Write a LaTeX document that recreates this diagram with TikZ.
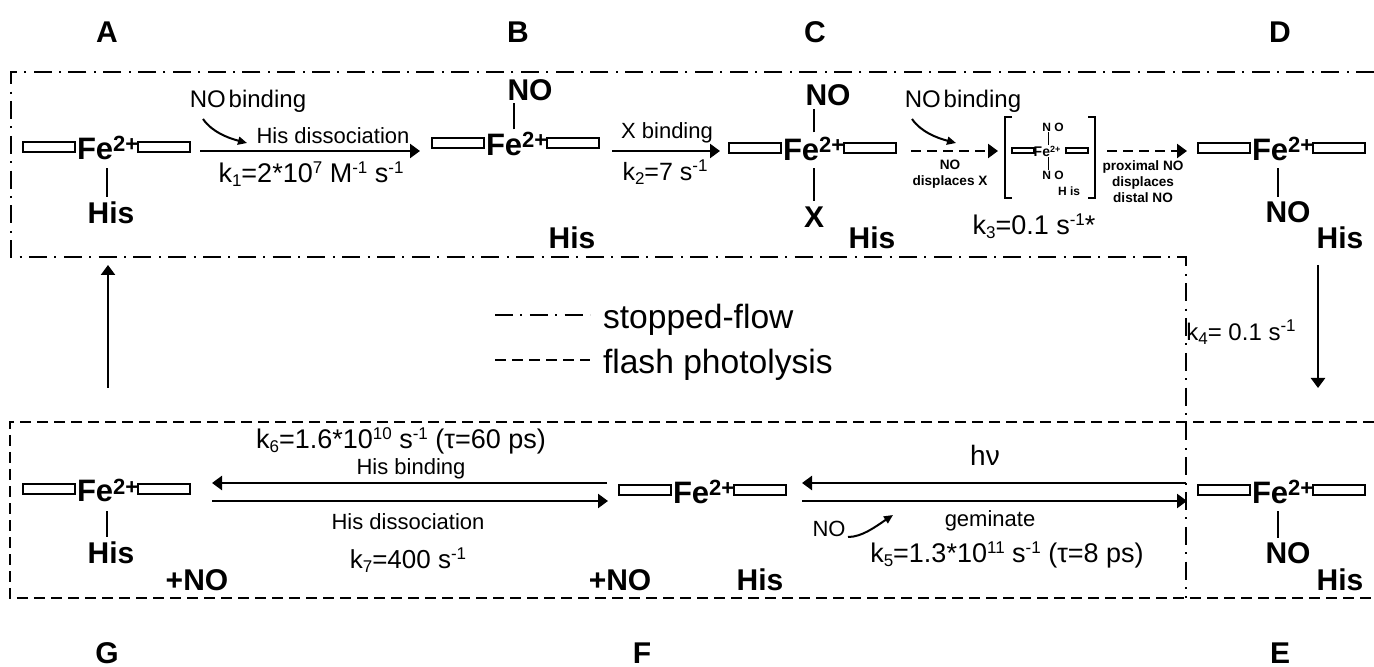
\documentclass[tikz,border=0pt]{standalone}
\usepackage{fontspec}
\setmainfont{Liberation Sans}
\usetikzlibrary{arrows.meta,calc}
\newcommand{\fsz}[1]{\fontsize{#1}{#1}\selectfont}
\newcommand{\sbs}[1]{\raisebox{-2pt}{\fsz{8.5}#1}}
\newcommand{\sps}[1]{\raisebox{4.5pt}{\fsz{8.5}#1}}
\newcommand{\hemefe}{\fsz{15.5}\bfseries Fe\raisebox{4pt}{\fsz{11}2+}}
\tikzset{
 x=0.5pt,y=-0.5pt,
 every node/.style={inner sep=0pt,outer sep=0pt},
 porph/.style={draw=black,line width=1.1pt,fill=white,minimum width=26pt,minimum height=5pt},
 miniporph/.style={draw=black,line width=0.6pt,fill=white,minimum width=11pt,minimum height=2.5pt},
 fe/.style={anchor=base west},
 big/.style={font=\fsz{15}\bfseries},
 letter/.style={font=\fsz{15}\bfseries},
 rate/.style={font=\fsz{13.5}},
 lab/.style={font=\fsz{11}},
 tiny/.style={font=\fontsize{6.8}{8}\selectfont\bfseries,align=center},
 mini/.style={font=\fsz{6}\bfseries},
 bond/.style={line width=0.9pt},
 arr/.style={line width=1.2pt,-{Triangle[length=5pt,width=7pt]}},
 curv/.style={line width=1pt,-{Triangle[length=4.5pt,width=4pt]}},
 dasharr/.style={arr,dash pattern=on 5pt off 3pt},
 sflow/.style={line width=1pt,dash pattern=on 9pt off 3.7pt on 1pt off 3.7pt},
 fphoto/.style={line width=1pt,dash pattern=on 5.5pt off 3pt},
 bracket/.style={line width=0.6pt},
}
\newcommand{\heme}[3]{%
 \node[porph,anchor=west] (#1l) at (#2,#3) {};
 \node[porph,anchor=west] (#1r) at (#2+115,#3) {};
 \node[fe] (#1f) at (#2+54,#3+13) {\hemefe};
}
% vertical bond: start offset from Fe node, ends level with a target node's anchor
\newcommand{\vbond}[6]{%
 \coordinate (p) at ($(#1.south west)+(#2,#3)$);
 \draw[bond] (p) -- ($(p |- #4.#5)+(0,#6)$);
}
\begin{document}
\begin{tikzpicture}
\useasboundingbox (0,0) rectangle (1374,667);
% letters
\node[letter] (la) at (107,32) {A};
\node[letter] (lb) at (518,32) {B};
\node[letter] (lc) at (815,32) {C};
\node[letter] (ld) at (1280,32) {D};
\node[letter] (lg) at (107,653) {G};
\node[letter] (lf) at (642,653) {F};
\node[letter] (le) at (1280,653) {E};
% boxes
\coordinate (s1) at (1374,72); \coordinate (s2) at (11,72); \coordinate (s3) at (11,257);
\coordinate (s4) at (1186,257); \coordinate (s5) at (1186,598);
\draw[sflow] (s1) -- (s2) -- (s3) -- (s4) -- (s5);
\coordinate (f1) at (1374,422); \coordinate (f2) at (10,422); \coordinate (f3) at (10,598); \coordinate (f4) at (1374,598);
\draw[fphoto] (f1) -- (f2) -- (f3) -- (f4);
% hemes
\heme{a}{23}{147}
\heme{b}{432}{143}
\heme{c}{729}{148}
\heme{d}{1198}{148}
\heme{e}{1198}{490}
\heme{f}{619}{490}
\heme{g}{23}{489}
% A
\node[big] (ah) at (111,213) {His};
\vbond{af}{30}{8}{ah}{north}{-5}
% B
\node[big] (bn) at (530,90) {NO};
\node[big] (bh) at (572,238) {His};
\vbond{bf}{28}{-27}{bn}{south}{2}
% C
\node[big] (cn) at (828,95) {NO};
\node[big] (cx) at (814,217) {X};
\node[big] (ch) at (872,238) {His};
\vbond{cf}{31}{-29}{cn}{south}{3}
\vbond{cf}{31}{7}{cx}{north}{-6}
% D
\node[big] (dn) at (1288,212) {NO};
\node[big] (dh) at (1340,238) {His};
\vbond{df}{26}{7}{dn}{north}{-4}
% E
\node[big] (en) at (1288,553) {NO};
\node[big] (eh) at (1340,580) {His};
\vbond{ef}{26}{8}{en}{north}{-4}
% F
\node[big] (fp) at (620,580) {+NO};
\node[big] (fh) at (760,580) {His};
% G
\node[big] (gh) at (111,553) {His};
\node[big] (gp) at (197,580) {+NO};
\vbond{gf}{30}{9}{gh}{north}{-5}
% A->B
\node[lab,font=\fsz{12}] (t1) at (248,101) {NO\hspace{0.12em}binding};
\node[lab] (t2) at (333,136) {His dissociation};
\node[rate] (k1) at (311,174) {k\sbs{1}=2*10\sps{7} M\sps{-1} s\sps{-1}};
\draw[arr] ($(ar.east)+(10,4)$) -- ($(bl.west)+(-12,8)$);
\coordinate (c1) at (203,119); \coordinate (c2) at (247,143);
\draw[curv] (c1) .. controls (212,132) and (228,138) .. (c2);
% B->C
\node[lab] (t3) at (667,133) {X binding};
\node[rate,font=\fsz{12.5}] (k2) at (665,172) {k\sbs{2}=7 s\sps{-1}};
\draw[arr] ($(br.east)+(13,8)$) -- ($(cl.west)+(-9,3)$);
% C->intermediate->D
\node[lab,font=\fsz{12}] (t4) at (963,101) {NO\hspace{0.12em}binding};
\coordinate (c3) at (912,119); \coordinate (c4) at (956,143);
\draw[curv] (c3) .. controls (921,132) and (937,138) .. (c4);
\node[tiny] (t5) at (950,174) {NO\\displaces X};
\node[miniporph] (ml) at (1023,150.5) {};
\node[miniporph] (mr) at (1077,150.5) {};
\node[mini,font=\fsz{7}\bfseries] (mf) at (1047,151) {Fe\raisebox{2pt}{\fsz{4.5}2+}};
\node[mini] (mn1) at (1053,127) {N O};
\node[mini] (mn2) at (1053,175) {N O};
\node[mini] (mh) at (1069,191) {H is};
\draw[line width=.5pt] (mn1.south) ++(-5,1) -- ++(0,13);
\draw[line width=.5pt] (mn2.north) ++(-5,-1) -- ++(0,-13);
\coordinate (b1) at (1012,117); \coordinate (b2) at (1005,117); \coordinate (b3) at (1005,198); \coordinate (b4) at (1012,198);
\coordinate (b5) at (1088,117); \coordinate (b6) at (1095,117); \coordinate (b7) at (1095,198); \coordinate (b8) at (1088,198);
\draw[bracket] (b1) -- (b2) -- (b3) -- (b4);
\draw[bracket] (b5) -- (b6) -- (b7) -- (b8);
\draw[dasharr] ($(cr.east)+(15,3)$) -- ($(b2)+(-7,34)$);
\draw[dasharr] ($(b6)+(12,34)$) -- ($(dl.west)+(-11,3)$);
\node[tiny] (t6) at (1143,182) {proximal NO\\displaces\\distal NO};
\node[rate] (k3) at (1034,226) {k\sbs{3}=0.1 s\sps{-1}*};
% D->E
\coordinate (d1) at (1318,265); \coordinate (d2) at (1318,388);
\draw[arr] (d1) -- (d2);
\node[rate,font=\fsz{12}] (k4) at (1241,332) {k\sbs{4}= 0.1 s\sps{-1}};
% G->A
\coordinate (u1) at (108,388); \coordinate (u2) at (108,265);
\draw[arr] (u1) -- (u2);
% legend
\coordinate (l1) at (495,315); \coordinate (l2) at (590,315);
\coordinate (l3) at (495,360); \coordinate (l4) at (590,360);
\draw[sflow] (l1) -- (l2);
\draw[fphoto] (l3) -- (l4);
\node[font=\fsz{16.8},anchor=base west] (ls) at (603,329) {stopped-flow};
\node[font=\fsz{16.8},anchor=base west] (lp) at (603,374) {flash photolysis};
% E<->F
\node[lab,font=\fsz{14}] (t7) at (985,455) {hν};
\node[lab] (t8) at (990,521) {geminate};
\node[lab] (t9) at (829,529) {NO};
\node[rate] (k5) at (1007,555) {k\sbs{5}=1.3*10\sps{11} s\sps{-1} (τ=8 ps)};
\draw[arr] ($(el.west)+(-12,-7)$) -- ($(fr.east)+(16,-7)$);
\draw[arr] ($(fr.east)+(16,11)$) -- ($(el.west)+(-11,11)$);
\coordinate (c5) at (848,537); \coordinate (c6) at (893,515);
\draw[curv] (c5) .. controls (862,537) and (875,527) .. (c6);
% F<->G
\node[rate] (k6) at (401,441) {k\sbs{6}=1.6*10\sps{10} s\sps{-1} (τ=60 ps)};
\node[lab] (t10) at (411,469) {His binding};
\node[lab] (t11) at (408,522) {His dissociation};
\node[rate,font=\fsz{13}] (k7) at (408,560) {k\sbs{7}=400 s\sps{-1}};
\draw[arr] ($(fl.west)+(-12,-7)$) -- ($(gr.east)+(22,-6)$);
\draw[arr] ($(gr.east)+(22,12)$) -- ($(fl.west)+(-11,11)$);
\end{tikzpicture}
\end{document}
